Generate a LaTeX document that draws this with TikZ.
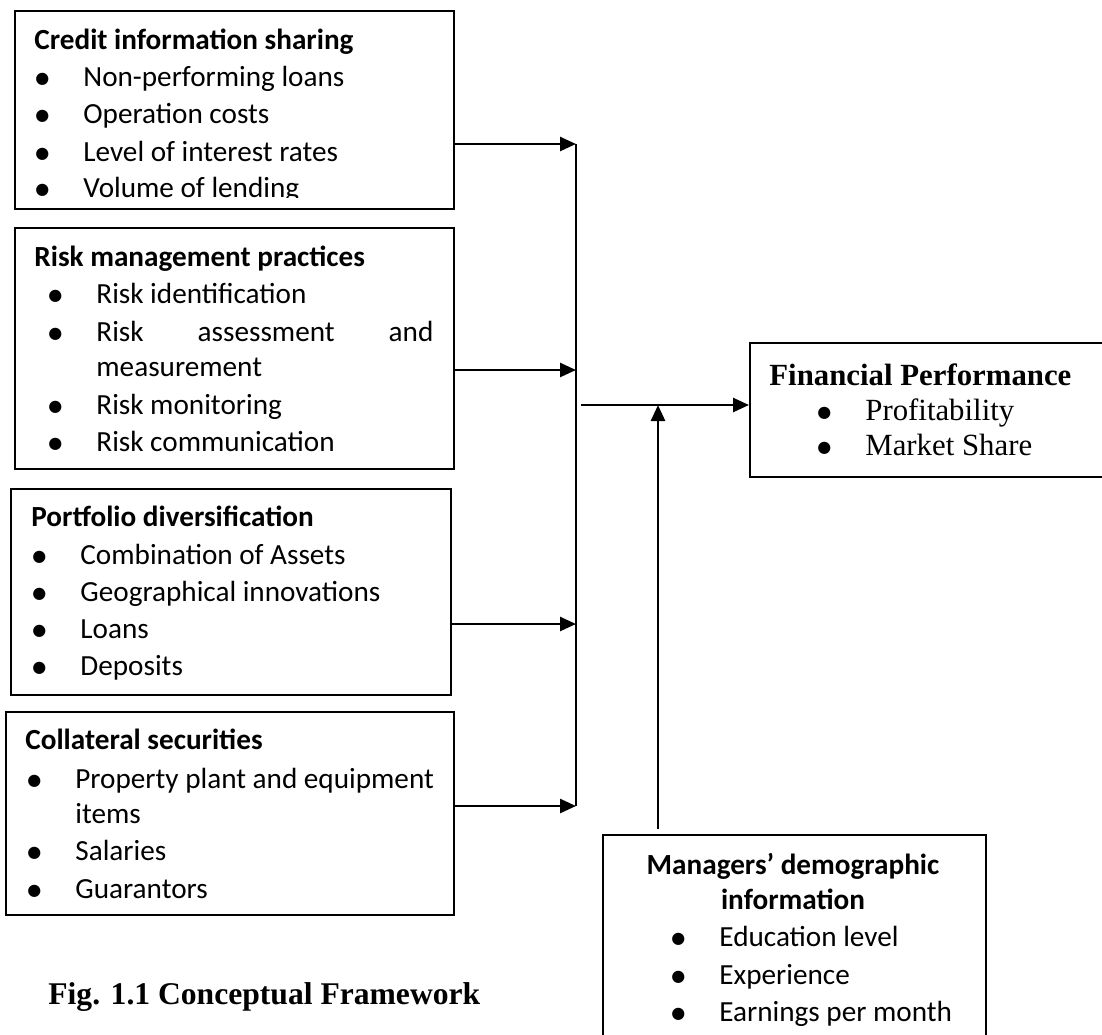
\documentclass[tikz,border=0pt]{standalone}
\usepackage{fontspec}
\setmainfont{Carlito}
\newfontfamily\serifface{Liberation Serif}
\newfontfamily\dotface{DejaVu Sans}
\usetikzlibrary{arrows.meta}
% bullet with fixed indent
\newcommand{\bul}{\makebox[24pt][l]{\raisebox{1.3pt}{\dotface\fontsize{8pt}{9pt}\selectfont ●}}}

\begin{document}
\begin{tikzpicture}[x=0.5pt,y=-0.5pt,>={Triangle[length=8pt,width=7pt]},
box/.style={draw,line width=1.1pt,anchor=north west,inner sep=0pt},
ln/.style={anchor=base west,inner sep=0pt,yshift=-4.7pt,font=\fontsize{14.6pt}{18pt}\selectfont},
hd/.style={ln,font=\fontsize{14.6pt}{18pt}\selectfont\bfseries},
sln/.style={ln,yshift=-0.3pt,font=\serifface\fontsize{15.4pt}{18pt}\selectfont},
shd/.style={sln,font=\serifface\fontsize{15.4pt}{18pt}\selectfont\bfseries},
conn/.style={->,line width=1.3pt}]
\useasboundingbox (0,0) rectangle (1102,1034);

% boxes
\node[box,minimum width=219.5pt,minimum height=99pt] (cis) at (14,10) {};
\node[box,minimum width=219.5pt,minimum height=120.5pt] (rmp) at (14,227) {};
\node[box,minimum width=220pt,minimum height=103pt] (pd) at (10,488) {};
\node[box,minimum width=224pt,minimum height=101.5pt] (cs) at (5,711) {};
\node[box,line width=0.8pt,minimum width=178pt,minimum height=67pt] (fp) at (749,342) {};
\node[box,line width=0.8pt,minimum width=191.5pt,minimum height=106pt] (mdi) at (602,834) {};

% credit information sharing
\node[hd] (cis-h) at (34,40) {Credit information sharing};
\node[ln] (cis-1) at (35,77) {\bul Non-performing loans};
\node[ln] (cis-2) at (35,114) {\bul Operation costs};
\node[ln] (cis-3) at (35,152) {\bul Level of interest rates};
\begin{scope}
\clip (14,160) rectangle (453,197);
\node[ln] (cis-4) at (35,188) {\bul Volume of lending};
\end{scope}

% risk management practices
\node[hd] (rmp-h) at (34,257) {Risk management practices};
\node[ln] (rmp-1) at (48,294) {\bul Risk identification};
\node[ln] (rmp-2) at (48,332) {\bul\hbox to 168.5pt{Risk\hfill assessment\hfill and}};
\node[ln] (rmp-3) at (96,367) {measurement};
\node[ln] (rmp-4) at (48,405) {\bul Risk monitoring};
\node[ln] (rmp-5) at (48,442) {\bul Risk communication};

% portfolio diversification
\node[hd] (pd-h) at (31,517) {Portfolio diversification};
\node[ln] (pd-1) at (32,555) {\bul Combination of Assets};
\node[ln] (pd-2) at (32,592) {\bul Geographical innovations};
\node[ln] (pd-3) at (32,629) {\bul Loans};
\node[ln] (pd-4) at (32,666) {\bul Deposits};

% collateral securities
\node[hd] (cs-h) at (25,740) {Collateral securities};
\node[ln] (cs-1) at (27,779) {\bul Property plant and equipment};
\node[ln] (cs-2) at (75,814) {items};
\node[ln] (cs-3) at (27,851) {\bul Salaries};
\node[ln] (cs-4) at (27,889) {\bul Guarantors};

% financial performance
\node[shd] (fp-h) at (769,375) {Financial Performance};
\node[sln] (fp-1) at (817,410) {\bul Profitability};
\node[sln] (fp-2) at (817,445) {\bul Market Share};

% managers
\node[hd,anchor=base] (mdi-h1) at (793,865) {Managers’ demographic};
\node[hd,anchor=base] (mdi-h2) at (793,900) {information};
\node[ln] (mdi-1) at (671,937) {\bul Education level};
\node[ln] (mdi-2) at (671,975) {\bul Experience};
\node[ln] (mdi-3) at (671,1012) {\bul Earnings per month};

\node[shd,font=\serifface\fontsize{15.8pt}{18pt}\selectfont\bfseries] (fig) at (48,994) {Fig. 1.1 Conceptual Framework};

% connectors
\coordinate (j1) at (576,144);
\coordinate (j2) at (576,370);
\coordinate (j3) at (576,624);
\coordinate (j4) at (576,806);
\coordinate (jo) at (581,405);
\coordinate (mu) at (658,829);
\draw[conn] (cis.east |- j1) -- (j1);
\draw[conn] (rmp.east |- j2) -- (j2);
\draw[conn] (pd.east |- j3) -- (j3);
\draw[conn] (cs.east |- j4) -- (j4);
\draw[line width=0.8pt] (j1) -- (j4);
\draw[conn] (jo) -- (fp.west |- jo);
\draw[conn] (mu) -- (mu |- jo);
\end{tikzpicture}
\end{document}
